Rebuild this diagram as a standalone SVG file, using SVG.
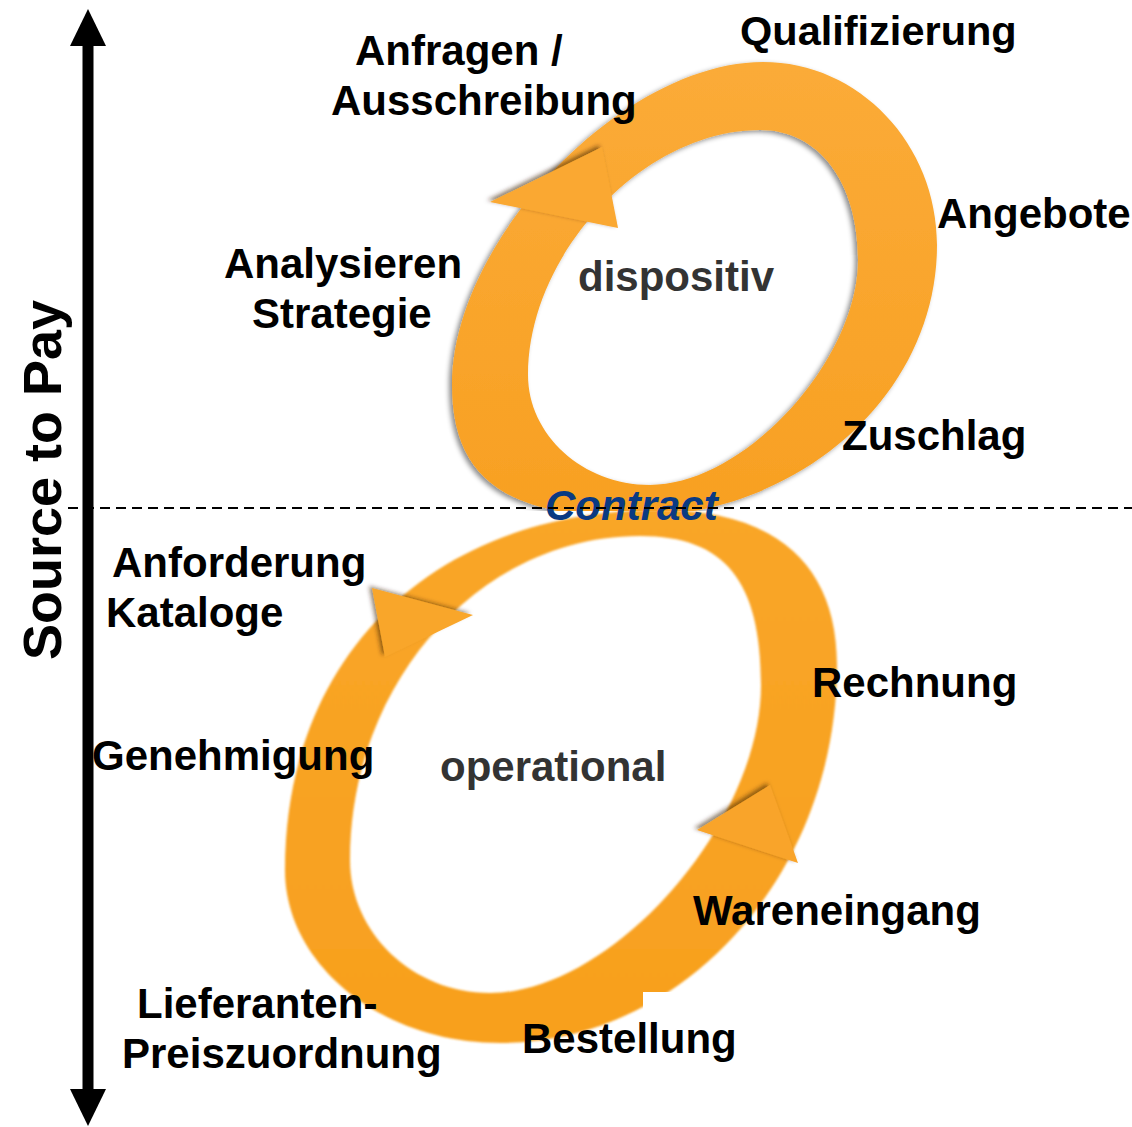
<svg xmlns="http://www.w3.org/2000/svg" width="1132" height="1127" viewBox="0 0 1132 1127">
  <style>
    .lbl { font-family: "Liberation Sans", Arial, sans-serif; font-weight: bold; font-size: 42px; fill: #000; }
    .inner { fill: #333; }
    .contract { font-style: italic; fill: #0A3A82; }
    .ring { fill-rule: evenodd; }
  </style>
  <defs>
    <linearGradient id="gTop" x1="0" y1="0" x2="0" y2="1">
      <stop offset="0" stop-color="#FBAB38"/>
      <stop offset="1" stop-color="#F8A022"/>
    </linearGradient>
    <linearGradient id="gBot" x1="0" y1="0" x2="0" y2="1">
      <stop offset="0" stop-color="#F9A628"/>
      <stop offset="1" stop-color="#F8A01E"/>
    </linearGradient>
    <filter id="shTop" x="-10%" y="-10%" width="120%" height="120%">
      <feDropShadow dx="-3" dy="2" stdDeviation="2.5" flood-color="#000" flood-opacity="0.45"/>
    </filter>
    <filter id="shBot" x="-10%" y="-10%" width="120%" height="120%">
      <feGaussianBlur in="SourceGraphic" stdDeviation="1"/>
    </filter>
    <filter id="shArrow" x="-30%" y="-30%" width="160%" height="160%">
      <feDropShadow dx="-3" dy="-2" stdDeviation="2" flood-color="#3a2000" flood-opacity="0.55"/>
    </filter>
    <clipPath id="clipTop">
      <rect x="0" y="0" width="1132" height="511"/>
    </clipPath>
    <marker id="axisHead" viewBox="0 0 37 36" markerWidth="37" markerHeight="36" refX="1" refY="18" orient="auto-start-reverse" markerUnits="userSpaceOnUse">
      <path d="M0,0 L37,18 L0,36 Z" fill="#000"/>
    </marker>
  </defs>

  <g id="ring-dispositiv" clip-path="url(#clipTop)">
    <path class="ring" fill="url(#gTop)" filter="url(#shTop)"
      d="M763,62 C859,62 937,144 937,245 C937,395 799,517 630,517 C505,517 452,477 452,385 C452,240 623,62 763,62 Z
         M760,130 C819,130 858,182 858,260 C858,361 744,485 650,485 C583,485 528,435 528,375 C528,253 644,130 760,130 Z"/>
    <polygon points="490,202 602,147 618,228" fill="#FAA830" filter="url(#shArrow)"/>
  </g>

  <g id="ring-operational">
    <path class="ring" fill="url(#gBot)" filter="url(#shBot)"
      d="M660,510 C775,510 837,564 837,665 C837,873 685,1043 500,1043 C382,1043 285,965 285,870 C285,654 435,510 660,510 Z
         M640,536 C725,536 761,581 761,685 C761,824 612,993 490,993 C413,993 350,933 350,860 C350,682 480,536 640,536 Z"/>
    <polygon points="372,588 473,615 385,657" fill="#F9A62A" filter="url(#shArrow)"/>
    <polygon points="697,830 770,785 798,863" fill="#F9A42A" filter="url(#shArrow)"/>
    <rect x="643" y="992" width="100" height="70" fill="#fff"/>
  </g>

  <g id="axis">
    <path d="M88,45 L88,1090" stroke="#000" stroke-width="11" fill="none" marker-start="url(#axisHead)" marker-end="url(#axisHead)"/>
    <text class="lbl" transform="translate(61,480) rotate(-90)" text-anchor="middle" style="font-size:54px">Source to Pay</text>
  </g>

  <g id="labels-dispositiv">
    <g id="n-anfragen"><text class="lbl" x="355" y="65">Anfragen /</text><text class="lbl" x="331" y="115">Ausschreibung</text></g>
    <g id="n-qualifizierung"><text class="lbl" x="740" y="45" style="font-size:41.5px">Qualifizierung</text></g>
    <g id="n-angebote"><text class="lbl" x="937" y="228">Angebote</text></g>
    <g id="n-analysieren"><text class="lbl" x="224" y="278">Analysieren</text><text class="lbl" x="252" y="328">Strategie</text></g>
    <g id="n-dispositiv"><text class="lbl inner" x="578" y="291">dispositiv</text></g>
    <g id="n-zuschlag"><text class="lbl" x="842" y="450">Zuschlag</text></g>
  </g>

  <g id="labels-operational">
    <g id="n-anforderung"><text class="lbl" x="112" y="577">Anforderung</text><text class="lbl" x="106" y="627">Kataloge</text></g>
    <g id="n-rechnung"><text class="lbl" x="812" y="697">Rechnung</text></g>
    <g id="n-genehmigung"><text class="lbl" x="92" y="770">Genehmigung</text></g>
    <g id="n-operational"><text class="lbl inner" x="440" y="781">operational</text></g>
    <g id="n-wareneingang"><text class="lbl" x="693" y="925">Wareneingang</text></g>
    <g id="n-lieferanten"><text class="lbl" x="137" y="1018">Lieferanten-</text><text class="lbl" x="122" y="1068">Preiszuordnung</text></g>
    <g id="n-bestellung"><text class="lbl" x="522" y="1053">Bestellung</text></g>
  </g>

  <g id="n-contract"><text class="lbl contract" x="545" y="520">Contract</text></g>

  <g id="connectors">
    <line x1="68" y1="508" x2="1132" y2="508" stroke="#000" stroke-width="2" stroke-dasharray="10 6"/>
  </g>
</svg>
